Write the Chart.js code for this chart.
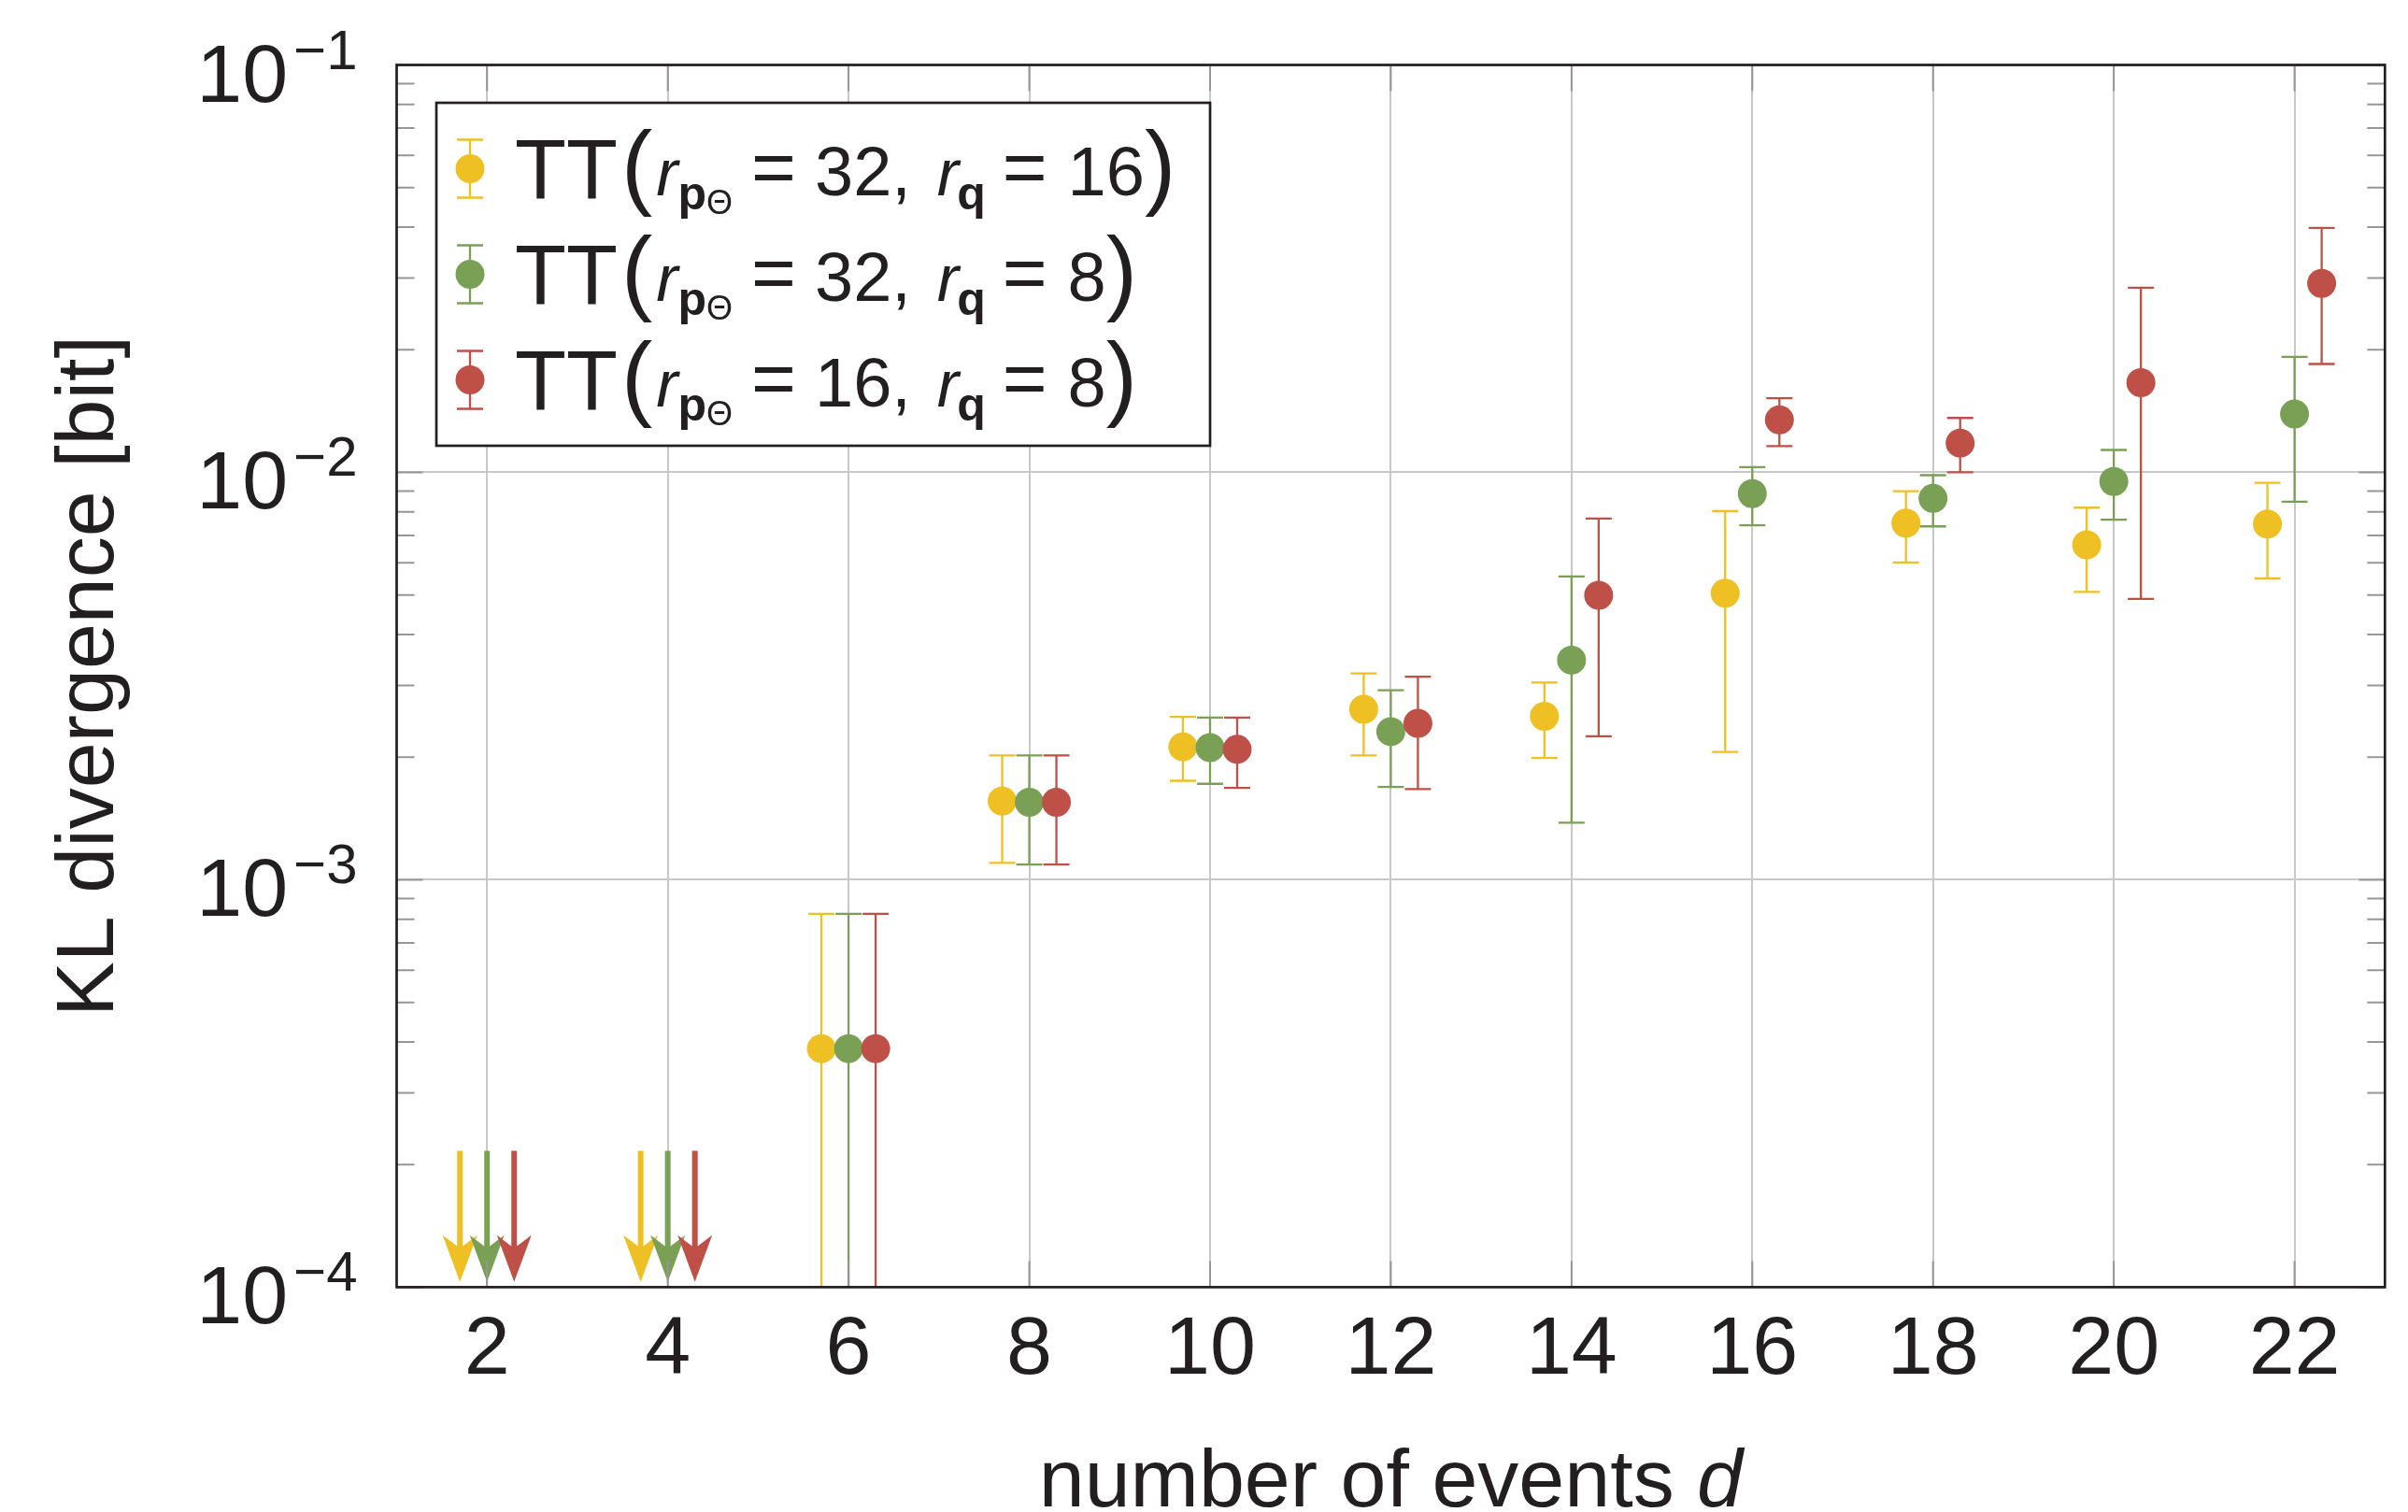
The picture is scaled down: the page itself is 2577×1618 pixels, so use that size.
<!DOCTYPE html>
<html>
<head>
<meta charset="utf-8">
<title>KL divergence vs number of events</title>
<script src="https://cdn.jsdelivr.net/npm/chart.js@4.4.1/dist/chart.umd.min.js"></script>
<style>
  html, body { margin: 0; padding: 0; background: #fff; }
  #wrap { width: 2577px; height: 1618px; }
</style>
</head>
<body>
<div id="wrap"><canvas id="myChart" width="2577" height="1618"></canvas></div>
<script>
// --- dati ---

// numero di eventi d (punti con valore)
const dValues = [6, 8, 10, 12, 14, 16, 18, 20, 22];
// d dove tutte e tre le serie stanno sotto 1e-4 (disegnate come frecce)
const belowRangeD = [2, 4];
const arrowFrom = 2.16e-4;
const arrowTo = 1.03e-4;

// TT(r_pΘ = 32, r_q = 16)
const klA = [3.85e-4, 1.56e-3, 2.12e-3, 2.62e-3, 2.52e-3, 5.05e-3, 7.51e-3, 6.64e-3, 7.47e-3];
const klALo = [0, 1.10e-3, 1.75e-3, 2.02e-3, 1.99e-3, 2.06e-3, 6.01e-3, 5.09e-3, 5.49e-3];
const klAHi = [8.25e-4, 2.02e-3, 2.51e-3, 3.21e-3, 3.05e-3, 8.03e-3, 8.99e-3, 8.19e-3, 9.43e-3];

// TT(r_pΘ = 32, r_q = 8)
const klB = [3.85e-4, 1.55e-3, 2.11e-3, 2.31e-3, 3.46e-3, 8.87e-3, 8.63e-3, 9.50e-3, 1.39e-2];
const klBLo = [0, 1.09e-3, 1.72e-3, 1.69e-3, 1.38e-3, 7.41e-3, 7.37e-3, 7.65e-3, 8.47e-3];
const klBHi = [8.25e-4, 2.02e-3, 2.50e-3, 2.92e-3, 5.55e-3, 1.03e-2, 9.84e-3, 1.135e-2, 1.92e-2];

// TT(r_pΘ = 16, r_q = 8)
const klC = [3.85e-4, 1.55e-3, 2.09e-3, 2.42e-3, 4.99e-3, 1.345e-2, 1.18e-2, 1.66e-2, 2.91e-2];
const klCLo = [0, 1.09e-3, 1.68e-3, 1.67e-3, 2.25e-3, 1.16e-2, 1.0e-2, 4.89e-3, 1.845e-2];
const klCHi = [8.25e-4, 2.02e-3, 2.50e-3, 3.15e-3, 7.7e-3, 1.52e-2, 1.36e-2, 2.84e-2, 3.98e-2];

const rpValues = [32, 32, 16];
const rqValues = [16, 8, 8];

// assi
const xTicks = [2, 4, 6, 8, 10, 12, 14, 16, 18, 20, 22];
const yTicks = [1e-4, 1e-3, 1e-2, 1e-1];
const yTickExp = ['\u22124', '\u22123', '\u22122', '\u22121'];
const yMinorMult = [2, 3, 4, 5, 6, 7, 8, 9];

// --- stile ---
const colors = ['#EEC024', '#7AA056', '#BE5048'];
const shifts = [-0.3, 0, 0.3];
const textColor = '#231f20';
const FONT = "'Liberation Sans', Arial, sans-serif";

const series = [
  { rp: rpValues[0], rq: rqValues[0], values: klA, lo: klALo, hi: klAHi },
  { rp: rpValues[1], rq: rqValues[1], values: klB, lo: klBLo, hi: klBHi },
  { rp: rpValues[2], rq: rqValues[2], values: klC, lo: klCLo, hi: klCHi }
];
series.forEach((s, i) => { s.color = colors[i]; s.shift = shifts[i]; });

function clipArea(ctx, a) {
  ctx.beginPath();
  ctx.rect(a.left, a.top, a.right - a.left, a.bottom - a.top);
  ctx.clip();
}

// barre d'errore + frecce, prima dei punti della stessa serie
const errorBars = {
  id: 'errorBars',
  beforeDatasetDraw(chart, args) {
    const s = series[args.index];
    const { ctx, chartArea } = chart;
    const xs = chart.scales.x, ys = chart.scales.y;
    ctx.save();
    clipArea(ctx, chartArea);
    ctx.strokeStyle = s.color;
    ctx.lineWidth = 2.3;
    dValues.forEach((d, i) => {
      const px = xs.getPixelForValue(d + s.shift);
      const top = ys.getPixelForValue(s.hi[i]);
      const bot = s.lo[i] > 0 ? ys.getPixelForValue(s.lo[i]) : chartArea.bottom + 5;
      ctx.beginPath();
      ctx.moveTo(px, top); ctx.lineTo(px, bot);
      ctx.moveTo(px - 14, top); ctx.lineTo(px + 14, top);
      if (s.lo[i] > 0) { ctx.moveTo(px - 14, bot); ctx.lineTo(px + 14, bot); }
      ctx.stroke();
    });
    // valori sotto il range
    ctx.fillStyle = s.color;
    ctx.lineWidth = 6;
    belowRangeD.forEach(d => {
      const px = xs.getPixelForValue(d + s.shift);
      const y0 = ys.getPixelForValue(arrowFrom);
      const tip = ys.getPixelForValue(arrowTo);
      ctx.beginPath();
      ctx.moveTo(px, y0); ctx.lineTo(px, tip - 30);
      ctx.stroke();
      ctx.beginPath();
      ctx.moveTo(px, tip);
      ctx.lineTo(px - 18.5, tip - 50);
      ctx.lineTo(px, tip - 36);
      ctx.lineTo(px + 18.5, tip - 50);
      ctx.closePath();
      ctx.fill();
    });
    ctx.restore();
  }
};

// tacche, legenda, cornice, etichette y
function legendPieces(rp, rq) {
  return [
    { t: 'TT', f: '90px', dy: 0, gap: 0 },
    { t: '(', f: '100px', dy: -2, gap: 4 },
    { t: 'r', f: 'italic 70px', dy: -4, gap: 4 },
    { t: 'p', f: 'bold 50px', dy: 11, gap: 0 },
    { t: '\u0398', f: '36px', dy: 16, gap: 0 },
    { t: '=', f: '82px', dy: -6, gap: 20 },
    { t: rp + ',', f: '74px', dy: -4, gap: 20 },
    { t: 'r', f: 'italic 70px', dy: -4, gap: 28 },
    { t: 'q', f: 'bold 50px', dy: 11, gap: -2 },
    { t: '=', f: '82px', dy: -6, gap: 18 },
    { t: String(rq), f: '74px', dy: -4, gap: 22 },
    { t: ')', f: '100px', dy: -2, gap: 0 }
  ];
}

const decorations = {
  id: 'decorations',
  afterDatasetsDraw(chart) {
    const { ctx, chartArea: a } = chart;
    const xs = chart.scales.x, ys = chart.scales.y;
    ctx.save();
    // tacche
    ctx.strokeStyle = 'rgb(150,150,150)';
    ctx.lineWidth = 2;
    ctx.beginPath();
    xTicks.forEach(v => {
      const px = xs.getPixelForValue(v);
      ctx.moveTo(px, a.bottom); ctx.lineTo(px, a.bottom - 28);
      ctx.moveTo(px, a.top); ctx.lineTo(px, a.top + 28);
    });
    yTicks.forEach((v, k) => {
      const py = ys.getPixelForValue(v);
      ctx.moveTo(a.left, py); ctx.lineTo(a.left + 28, py);
      ctx.moveTo(a.right, py); ctx.lineTo(a.right - 28, py);
      if (k < yTicks.length - 1) {
        yMinorMult.forEach(m => {
          const pm = ys.getPixelForValue(m * v);
          ctx.moveTo(a.left, pm); ctx.lineTo(a.left + 19, pm);
          ctx.moveTo(a.right, pm); ctx.lineTo(a.right - 19, pm);
        });
      }
    });
    ctx.stroke();

    // legenda
    const box = { x: 467, y: 110, w: 828, h: 367 };
    ctx.fillStyle = '#fff';
    ctx.fillRect(box.x, box.y, box.w, box.h);
    ctx.strokeStyle = textColor;
    ctx.lineWidth = 2.7;
    ctx.strokeRect(box.x, box.y, box.w, box.h);
    series.forEach((s, i) => {
      const base = 213 + i * 113;
      const cy = base - 32.5;
      const mx = 503;
      ctx.strokeStyle = s.color;
      ctx.lineWidth = 2.3;
      ctx.beginPath();
      ctx.moveTo(mx, cy - 31); ctx.lineTo(mx, cy + 31);
      ctx.moveTo(mx - 14, cy - 31); ctx.lineTo(mx + 14, cy - 31);
      ctx.moveTo(mx - 14, cy + 31); ctx.lineTo(mx + 14, cy + 31);
      ctx.stroke();
      ctx.fillStyle = s.color;
      ctx.beginPath();
      ctx.arc(mx, cy, 15.5, 0, Math.PI * 2);
      ctx.fill();
      ctx.fillStyle = textColor;
      ctx.textBaseline = 'alphabetic';
      ctx.textAlign = 'left';
      let x = 551;
      legendPieces(s.rp, s.rq).forEach(p => {
        x += p.gap;
        ctx.font = p.f + ' ' + FONT;
        ctx.fillText(p.t, x, base + p.dy);
        x += ctx.measureText(p.t).width;
      });
    });
    ctx.restore();
  },
  afterDraw(chart) {
    const { ctx, chartArea: a } = chart;
    const ys = chart.scales.y;
    ctx.save();
    ctx.strokeStyle = textColor;
    ctx.lineWidth = 2.7;
    ctx.strokeRect(a.left, a.top, a.right - a.left, a.bottom - a.top);

    // etichette 10^k
    ctx.fillStyle = textColor;
    ctx.textBaseline = 'alphabetic';
    ctx.textAlign = 'right';
    const xr = a.left - 42;
    yTicks.forEach((v, k) => {
      const py = ys.getPixelForValue(v);
      ctx.font = '60px ' + FONT;
      const ew = ctx.measureText(yTickExp[k]).width;
      ctx.fillText(yTickExp[k], xr, py + 4);
      ctx.font = '88px ' + FONT;
      ctx.fillText('10', xr - ew - 6, py + 39);
    });

    // titolo asse x con d in corsivo
    ctx.textAlign = 'left';
    ctx.font = '88px ' + FONT;
    const t1 = 'number of events ';
    const w1 = ctx.measureText(t1).width;
    ctx.font = 'italic 88px ' + FONT;
    const w2 = ctx.measureText('d').width;
    let x0 = (a.left + a.right) / 2 - (w1 + w2) / 2;
    ctx.font = '88px ' + FONT;
    ctx.fillText(t1, x0, 1612);
    ctx.font = 'italic 88px ' + FONT;
    ctx.fillText('d', x0 + w1, 1612);
    ctx.restore();
  }
};

Chart.defaults.font.family = FONT;
Chart.defaults.color = textColor;

const ctx = document.getElementById('myChart').getContext('2d');
const chart = new Chart(ctx, {
  type: 'scatter',
  data: {
    datasets: series.map((s, i) => ({
      label: 'TT(r_p\u0398 = ' + s.rp + ', r_q = ' + s.rq + ')',
      data: dValues.map((d, j) => ({ x: d + s.shift, y: s.values[j] })),
      backgroundColor: s.color,
      borderColor: s.color,
      pointRadius: 15.5,
      pointHoverRadius: 15.5,
      pointBorderWidth: 0,
      order: series.length - i
    }))
  },
  options: {
    responsive: false,
    animation: false,
    devicePixelRatio: 1,
    events: [],
    layout: { padding: { left: 0, right: 24.7, top: 69.5, bottom: 103 } },
    plugins: {
      legend: { display: false },
      tooltip: { enabled: false }
    },
    scales: {
      x: {
        type: 'linear',
        min: 1,
        max: 23,
        afterBuildTicks: sc => { sc.ticks = xTicks.map(v => ({ value: v })); },
        grid: { color: 'rgb(200,200,200)', lineWidth: 2, drawTicks: false },
        border: { display: false },
        ticks: { font: { size: 88 }, padding: 16, color: textColor, maxRotation: 0, autoSkip: false }
      },
      y: {
        type: 'logarithmic',
        min: 1e-4,
        max: 1e-1,
        afterBuildTicks: sc => { sc.ticks = yTicks.map(v => ({ value: v })); },
        grid: { color: 'rgb(200,200,200)', lineWidth: 2, drawTicks: false },
        border: { display: false },
        ticks: { display: false },
        title: {
          display: true,
          text: 'KL divergence [bit]',
          color: textColor,
          font: { size: 88 },
          padding: { top: 44.4, bottom: 274.5 }
        }
      }
    }
  },
  plugins: [errorBars, decorations]
});
</script>
</body>
</html>
